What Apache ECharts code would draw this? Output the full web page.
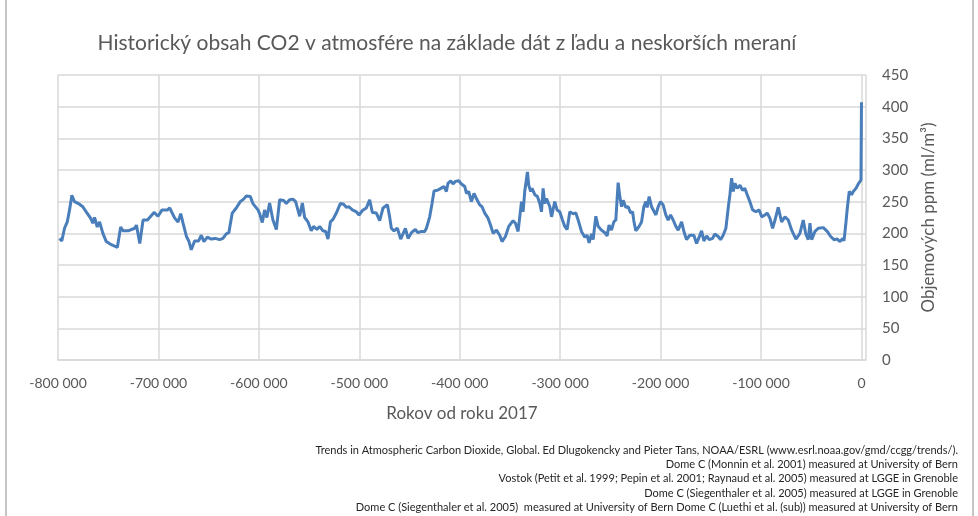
<!DOCTYPE html>
<html>
<head>
<meta charset="utf-8">
<script src="https://cdn.jsdelivr.net/npm/echarts@6/dist/echarts.min.js"></script>
<style>
  html, body { margin: 0; padding: 0; background: #fff; }
  #chart { width: 978px; height: 516px; }
</style>
</head>
<body>
<div id="chart"></div>
<script>
// years before 2017
const years = [
  -798500, -796200, -793500, -790800, -788500, -786200, -783600, -779600, -775300, -771900,
  -770300, -767600, -765300, -763600, -760900, -758600, -755300, -751900, -746900, -740900,
  -737600, -735300, -730300, -723600, -721900, -718600, -715300, -710900, -704400, -700400,
  -696400, -691000, -688800, -683800, -680500, -677800, -675500, -672100, -669800, -667300,
  -664000, -660000, -657300, -654700, -651300, -647400, -643400, -639100, -635800, -632500,
  -629900, -626500, -622500, -618500, -615200, -612500, -608500, -605900, -600900, -599200,
  -596600, -594300, -592000, -589300, -586000, -582600, -579300, -575300, -572700, -569400,
  -566100, -563400, -559400, -556700, -554400, -551100, -547800, -545500, -542200, -539500,
  -536200, -533500, -531200, -528800, -526200, -522900, -518900, -515600, -512900, -510300,
  -506900, -502900, -500300, -496900, -493000, -489700, -487000, -483000, -479700, -476400,
  -472000, -469800, -468100, -465500, -462100, -458800, -456500, -454100, -451500, -448100,
  -444200, -441600, -438200, -434900, -433200, -431600, -429900, -427600, -425600, -422200,
  -418900, -415700, -413300, -411700, -409000, -406700, -404300, -401000, -398300, -395000,
  -393300, -391000, -388400, -385800, -383400, -380100, -377800, -375100, -371800, -369100,
  -366800, -363400, -360200, -357900, -354500, -351200, -346900, -344500, -341900, -340200,
  -338500, -336900, -335300, -332600, -331300, -329300, -328000, -325300, -322600, -320300,
  -318600, -317000, -315300, -313600, -310300, -308600, -307000, -305400, -303100, -300400,
  -297700, -295400, -293100, -290400, -287100, -284400, -282100, -278800, -275500, -273200,
  -271200, -268800, -267200, -264500, -262200, -258800, -255500, -253300, -251300, -248900,
  -246600, -244600, -242300, -240600, -238900, -237300, -234600, -232300, -229900, -227900,
  -226700, -224700, -221400, -219000, -216700, -214700, -213400, -211400, -209000, -207400,
  -204700, -202400, -200100, -197500, -194800, -192500, -190100, -187500, -184800, -182500,
  -179100, -176800, -174200, -170900, -166900, -164200, -161600, -159200, -156900, -154200,
  -151600, -148200, -146000, -142700, -140300, -137700, -135000, -132700, -131000, -129300,
  -127700, -126000, -123700, -121000, -118400, -116100, -113800, -111100, -108400, -105100,
  -101800, -99400, -96100, -93900, -91200, -88500, -86100, -82900, -79500, -76200,
  -72900, -69500, -65300, -61300, -58000, -55600, -53000, -51300, -49600, -46300,
  -43000, -38100, -34100, -30700, -27400, -24100, -21400, -18700, -17400, -15400,
  -14100, -12200, -9800, -8200, -5500, -3200, -1500, -500, 0
];

// CO2 in ppm
const co2 = [
  192, 188, 208, 218, 237, 260, 250, 247, 242, 234,
  237, 224, 216, 225, 210, 218, 200, 187, 182, 178,
  210, 204, 204, 208, 213, 184, 221, 221, 233, 227,
  237, 237, 240, 224, 218, 231, 216, 195, 188, 174,
  188, 188, 197, 187, 194, 191, 192, 190, 192, 199,
  201, 232, 240, 250, 254, 259, 258, 247, 237, 231,
  217, 237, 225, 248, 221, 206, 253, 252, 247, 253,
  254, 250, 227, 248, 225, 218, 204, 211, 206, 211,
  204, 203, 191, 218, 222, 232, 247, 246, 241, 242,
  237, 234, 229, 236, 240, 253, 233, 232, 220, 240,
  245, 226, 208, 204, 208, 191, 199, 208, 192, 201,
  206, 201, 203, 203, 208, 211, 226, 247, 267, 268,
  271, 274, 266, 279, 283, 278, 282, 283, 278, 274,
  263, 266, 250, 263, 255, 245, 242, 232, 224, 212,
  200, 205, 197, 187, 195, 211, 220, 216, 203, 203,
  250, 234, 266, 297, 276, 266, 271, 261, 258, 247,
  234, 271, 247, 255, 242, 226, 226, 250, 237, 234,
  221, 211, 206, 234, 231, 232, 221, 203, 194, 197,
  185, 199, 190, 227, 211, 205, 201, 196, 213, 205,
  218, 221, 280, 258, 242, 252, 241, 242, 232, 234,
  220, 204, 211, 218, 242, 250, 241, 258, 242, 245,
  229, 242, 250, 245, 229, 221, 229, 221, 211, 205,
  218, 203, 190, 197, 197, 184, 194, 204, 188, 196,
  190, 192, 199, 195, 190, 197, 208, 240, 261, 287,
  266, 279, 271, 276, 268, 271, 261, 250, 237, 234,
  237, 226, 229, 232, 224, 208, 221, 241, 218, 226,
  221, 205, 191, 200, 221, 200, 190, 216, 190, 203,
  208, 209, 203, 195, 190, 191, 187, 192, 188, 218,
  240, 266, 261, 266, 271, 278, 279, 284, 407
];

const sources = [
  'Trends in Atmospheric Carbon Dioxide, Global. Ed Dlugokencky and Pieter Tans, NOAA/ESRL (www.esrl.noaa.gov/gmd/ccgg/trends/).',
  'Dome C (Monnin et al. 2001) measured at University of Bern',
  'Vostok (Petit et al. 1999; Pepin et al. 2001; Raynaud et al. 2005) measured at LGGE in Grenoble',
  'Dome C (Siegenthaler et al. 2005) measured at LGGE in Grenoble',
  'Dome C (Siegenthaler et al. 2005)  measured at University of Bern Dome C (Luethi et al. (sub)) measured at University of Bern'
];

const FONT = 'Lato, "Open Sans", sans-serif';
const chart = echarts.init(document.getElementById('chart'));

const option = {
  animation: false,
  backgroundColor: '#fff',
  textStyle: {fontFamily: FONT},
  title: {
    text: 'Historický obsah CO2 v atmosfére na základe dát z ľadu a neskorších meraní',
    left: 442,
    top: 28,
    textAlign: 'center',
    textStyle: {
      color: '#595959',
      fontSize: 21,
      fontWeight: 'normal',
      fontFamily: FONT,
    },
  },
  grid: {
    left: 58,
    right: 112,
    top: 75,
    bottom: 156,
  },
  xAxis: {
    type: 'value',
    min: -800000,
    max: 4500,
    interval: 100000,
    name: 'Rokov od roku 2017',
    nameLocation: 'middle',
    nameGap: 45,
    nameTextStyle: {color: '#595959', fontSize: 17, fontFamily: FONT},
    axisLine: {show: true, lineStyle: {color: '#d9d9d9', width: 1.5}},
    axisTick: {show: false},
    axisLabel: {
      color: '#595959',
      fontSize: 14,
      margin: 16,
      fontFamily: FONT,
      formatter: (v) => (v > 0 ? '' : String(v).replace(/\B(?=(\d{3})+(?!\d))/g, ' ')),
    },
    splitLine: {show: true, lineStyle: {color: '#d9d9d9', width: 1.5}},
  },
  yAxis: {
    type: 'value',
    position: 'right',
    min: 0,
    max: 450,
    interval: 50,
    name: 'Objemových ppm (ml/m³)',
    nameLocation: 'middle',
    nameGap: 54,
    nameTextStyle: {color: '#595959', fontSize: 17, fontFamily: FONT},
    axisLine: {show: false},
    axisTick: {show: false},
    axisLabel: {color: '#595959', fontSize: 15, margin: 16, fontFamily: FONT},
    splitLine: {show: true, lineStyle: {color: '#d9d9d9', width: 1.5}},
  },
  graphic: [
    {
      type: 'rect',
      shape: {x: 6, y: -2, width: 967, height: 530},
      style: {fill: 'none', stroke: '#8c8c8c', lineWidth: 1},
      silent: true,
    },
    ...sources.map((s, i) => ({
      type: 'text',
      right: 20,
      top: 445 + i * 14.2,
      style: {
        text: s,
        fill: '#262626',
        font: '11px ' + FONT,
        textAlign: 'right',
      },
    })),
  ],
  series: [
    {
      name: 'CO2',
      type: 'line',
      showSymbol: false,
      lineStyle: {color: '#4a7ebb', width: 3},
      data: years.map((y, i) => [y, co2[i]]),
    },
  ],
};

chart.setOption(option);
</script>
</body>
</html>
